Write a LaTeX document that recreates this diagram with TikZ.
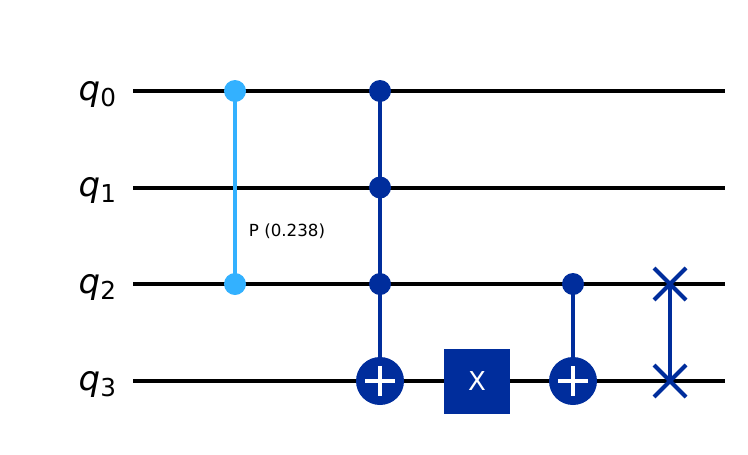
\documentclass[tikz,border=0pt]{standalone}
\usepackage{fontspec}
\setmainfont{DejaVu Sans}
\usetikzlibrary{shapes.misc}
\definecolor{qlight}{RGB}{51,177,255}
\definecolor{qdark}{RGB}{0,45,156}
\tikzset{every picture/.style={line width=0.75pt}}
\tikzset{
  qwire/.style={line width=3pt,color=black},
  qlabel/.style={anchor=base east,inner sep=0pt,font=\fontsize{25.5}{28}\selectfont},
  lightlink/.style={line width=3pt,color=qlight},
  darklink/.style={line width=3pt,color=qdark},
  lightdot/.style={circle,fill=qlight,minimum size=16.5pt,inner sep=0pt},
  darkdot/.style={circle,fill=qdark,minimum size=16.5pt,inner sep=0pt},
  targetdot/.style={circle,fill=qdark,minimum size=36pt,inner sep=0pt,
    path picture={\draw[white,line width=3.5pt]
      ([xshift=-11pt]path picture bounding box.center) -- ([xshift=11pt]path picture bounding box.center)
      ([yshift=-11pt]path picture bounding box.center) -- ([yshift=11pt]path picture bounding box.center);}},
  gatebox/.style={fill=qdark,text=white,minimum width=49.5pt,minimum height=49pt,inner sep=0pt,font=\fontsize{19.5}{22}\selectfont},
  swapmark/.style={cross out,draw=qdark,line width=3pt,minimum size=21pt,inner sep=0pt}
}
\newcommand{\qname}[1]{\textit{q}\raisebox{-4.5pt}{\fontsize{18.5}{20}\selectfont #1}}
\begin{document}
\begin{tikzpicture}[x=0.75pt,y=0.75pt,yscale=-1,xscale=1]
\useasboundingbox (0,0) rectangle (748,454);

%Wires
\coordinate (w0a) at (133,91);
\coordinate (w0b) at (725,91);
\coordinate (w1a) at (133,187.5);
\coordinate (w1b) at (725,187.5);
\coordinate (w2a) at (133,284);
\coordinate (w2b) at (725,284);
\coordinate (w3a) at (133,381);
\coordinate (w3b) at (725,381);
\draw [qwire] (w0a) -- (w0b);
\draw [qwire] (w1a) -- (w1b);
\draw [qwire] (w2a) -- (w2b);
\draw [qwire] (w3a) -- (w3b);

% Text Node
\node (q0) [qlabel] at (116.5,100) {\qname{0}};
% Text Node
\node (q1) [qlabel] at (116.5,196.5) {\qname{1}};
% Text Node
\node (q2) [qlabel] at (116.5,293) {\qname{2}};
% Text Node
\node (q3) [qlabel] at (116.5,390) {\qname{3}};

%Phase gate
\node (p0) [lightdot] at (235,91) {};
\node (p2) [lightdot] at (235,284) {};
\draw [lightlink] (p0.center) -- (p2.center);
% Text Node
\node (plabel) [inner sep=0pt,font=\fontsize{12.5}{14}\selectfont] at (287,231.5) {P (0.238)};

%Toffoli
\node (c0) [darkdot] at (380,91) {};
\node (c1) [darkdot] at (380,187.5) {};
\node (c2) [darkdot] at (380,284) {};
\node (t3) [targetdot] at (380,381) {};
\draw [darklink] (c0.center) -- (t3.north);

%X gate
\node (xgate) [gatebox] at (477,381.5) {X};

%CNOT
\node (c4) [darkdot] at (573,284) {};
\node (t4) [targetdot] at (573,381) {};
\draw [darklink] (c4.center) -- (t4.north);

%Swap
\node (s2) [swapmark] at (670,284) {};
\node (s3) [swapmark] at (670,381) {};
\draw [darklink] (s2.center) -- (s3.center);

\end{tikzpicture}
\end{document}
